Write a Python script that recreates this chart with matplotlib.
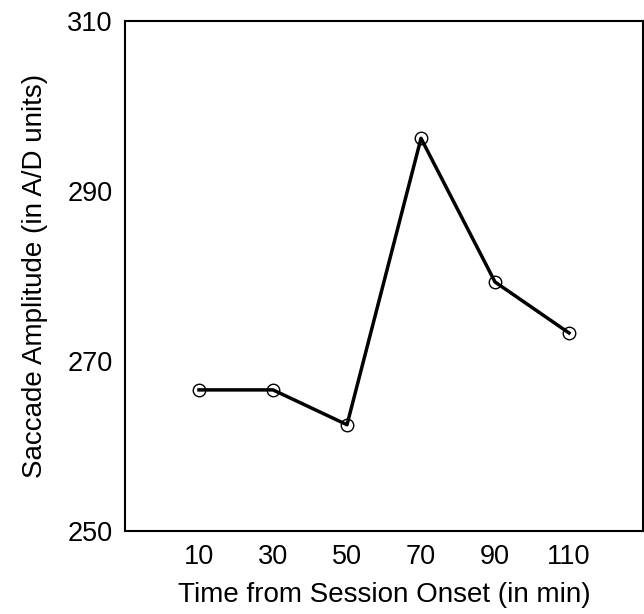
import matplotlib
matplotlib.use('Agg')
import matplotlib.pyplot as plt

plt.rcParams['font.family'] = ['Liberation Sans', 'DejaVu Sans']

minutes = [10, 30, 50, 70, 90, 110]
amplitude = [266.6, 266.6, 262.5, 296.2, 279.3, 273.3]
yticks = [250, 270, 290, 310]

fig = plt.figure(figsize=(6.44, 6.14), dpi=100)
ax = fig.add_axes([125/644, 1 - 531/614, 518/644, 510/614])

ax.plot(minutes, amplitude, color='black', linewidth=2.5,
        marker='o', markersize=9, markerfacecolor='none',
        markeredgecolor='black', markeredgewidth=1.0)

ax.set_xlim(-10, 130)
ax.set_ylim(250, 310)
ax.set_xticks(minutes)
ax.set_yticks(yticks)
ax.tick_params(length=0, labelsize=19.5, pad=9)

for s in ax.spines.values():
    s.set_linewidth(1.5)

ax.set_xlabel('Time from Session Onset (in min)', fontsize=20, labelpad=9)
ax.set_ylabel('Saccade Amplitude (in A/D units)', fontsize=20, labelpad=14)

fig.savefig('out.png', dpi=100)
